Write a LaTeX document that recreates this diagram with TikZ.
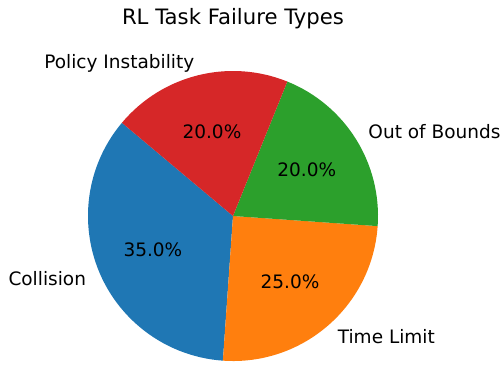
\documentclass[tikz,border=0pt]{standalone}
\usepackage{fontspec}
\usetikzlibrary{calc}
\setmainfont{DejaVu Sans}
\definecolor{tabblue}{HTML}{1F77B4}
\definecolor{taborange}{HTML}{FF7F0E}
\definecolor{tabgreen}{HTML}{2CA02C}
\definecolor{tabred}{HTML}{D62728}
\tikzset{
  lbl/.style={inner sep=0pt, font=\fontsize{18.5}{22}\selectfont, text height=18pt, text depth=4pt},
  pct/.style={lbl, anchor=center},
  ttl/.style={inner sep=0pt, font=\fontsize{21.2}{25}\selectfont, anchor=base}
}
\begin{document}
\begin{tikzpicture}[x=1pt,y=1pt]
\useasboundingbox (0,0) rectangle (502,365);
\coordinate (c) at (233,149);
\fill[tabblue] (c) -- ++(140:145) arc[start angle=140, end angle=266, radius=145] -- cycle;
\fill[taborange] (c) -- ++(266:145) arc[start angle=266, end angle=356, radius=145] -- cycle;
\fill[tabgreen] (c) -- ++(-4:145) arc[start angle=-4, end angle=68, radius=145] -- cycle;
\fill[tabred] (c) -- ++(68:145) arc[start angle=68, end angle=140, radius=145] -- cycle;
\node[lbl, anchor=east] (lcol) at ($(c)+(203:159.5)$) {Collision};
\node[lbl, anchor=west] (ltime) at ($(c)+(311:159.5)$) {Time Limit};
\node[lbl, anchor=west] (lout) at ($(c)+(32:159.5)$) {Out of Bounds};
\node[lbl, anchor=east] (lpol) at ($(c)+(104:159.5)$) {Policy Instability};
\node[pct] (pcol) at ($(c)+(203:87)$) {35.0\%};
\node[pct] (ptime) at ($(c)+(311:87)$) {25.0\%};
\node[pct] (pout) at ($(c)+(32:87)$) {20.0\%};
\node[pct] (ppol) at ($(c)+(104:87)$) {20.0\%};
\node[ttl] (title) at (233,340) {RL Task Failure Types};
\end{tikzpicture}
\end{document}
